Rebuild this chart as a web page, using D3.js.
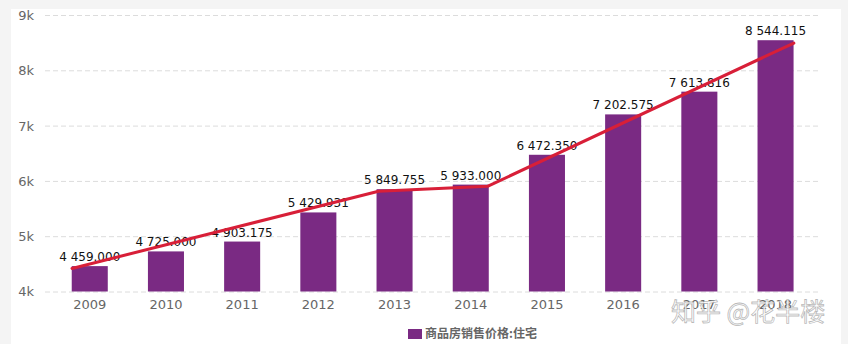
<!DOCTYPE html>
<html>
<head>
<meta charset="utf-8">
<script src="https://cdn.jsdelivr.net/npm/d3@7"></script>
<style>
  html, body { margin: 0; padding: 0; background: #f4f4f4; }
  svg { display: block; }
</style>
</head>
<body>
<svg id="chart" width="848" height="344"></svg>
<script>
const years = ["2009","2010","2011","2012","2013","2014","2015","2016","2017","2018"];
const prices = [4459.000, 4725.000, 4903.175, 5429.931, 5849.755, 5933.000, 6472.350, 7202.575, 7613.816, 8544.115];
const labels = ["4 459.000","4 725.000","4 903.175","5 429.931","5 849.755","5 933.000","6 472.350","7 202.575","7 613.816","8 544.115"];
const yTicks = [4000, 5000, 6000, 7000, 8000, 9000];
const tickLabels = ["4k","5k","6k","7k","8k","9k"];
// hand-drawn red trend line: position in year-index units and value
const trendIndex = [-0.233, 3.79, 5.22, 9.24];
const trendValues = [4417, 5812, 5902, 8493];
const seriesName = "商品房销售价格:住宅";
const watermark = "知乎 @花半楼";

const svg = d3.select("#chart");
const font = "'DejaVu Sans', Verdana, sans-serif";

// white panel
svg.append("rect").attr("x", 11).attr("y", 9).attr("width", 830).attr("height", 340).attr("fill", "#fff");

const x = d3.scaleBand().domain(years).range([51.65, 813.65]).paddingInner(0.527).paddingOuter(0.2635);
const y = d3.scaleLinear().domain([4000, 9000]).range([291.5, 15]);
const xi = d3.scaleLinear().domain([0, years.length - 1])
  .range([x(years[0]) + x.bandwidth() / 2, x(years[years.length - 1]) + x.bandwidth() / 2]);

// gridlines
const yAxis = d3.axisLeft(y).tickValues(yTicks).tickSize(-(818 - 45)).tickPadding(10)
  .tickFormat((d, i) => tickLabels[i]);
const gy = svg.append("g").attr("transform", "translate(45,0)").call(yAxis);
gy.select(".domain").remove();
gy.selectAll(".tick line").attr("stroke", "#dcdcdc").attr("stroke-dasharray", "5,3");
gy.selectAll(".tick text").attr("fill", "#666").attr("font-size", 13).attr("font-family", font)
  .attr("x", -11).attr("dy", "0.34em");

// bars
svg.append("g").selectAll("rect").data(years).join("rect")
  .attr("x", d => x(d)).attr("width", x.bandwidth())
  .attr("y", (d, i) => y(prices[i])).attr("height", (d, i) => y(4000) - y(prices[i]))
  .attr("fill", "#7a2a83");

// x axis labels
const xAxis = d3.axisBottom(x).tickSize(0).tickPadding(8);
const gx = svg.append("g").attr("transform", `translate(0,${y(4000)})`).call(xAxis);
gx.select(".domain").remove();
gx.selectAll(".tick text").attr("fill", "#666").attr("font-size", 13).attr("font-family", font);

// value labels
svg.append("g").selectAll("text").data(years).join("text")
  .attr("x", d => x(d) + x.bandwidth() / 2)
  .attr("y", (d, i) => y(prices[i]) - 5)
  .attr("text-anchor", "middle").attr("font-size", 12).attr("font-family", font)
  .attr("fill", "#111").text((d, i) => labels[i]);

// red trend line
const line = d3.line().x(d => xi(d[0])).y(d => y(d[1]));
svg.append("path").datum(trendIndex.map((t, i) => [t, trendValues[i]]))
  .attr("d", line).attr("fill", "none").attr("stroke", "#d81f38").attr("stroke-width", 3)
  .attr("stroke-linejoin", "round").attr("stroke-linecap", "round");

// legend
const lg = svg.append("g");
lg.append("rect").attr("x", 408).attr("y", 329).attr("width", 14).attr("height", 10).attr("fill", "#7a2a83");
lg.append("text").attr("x", 425).attr("y", 338).attr("font-size", 12).attr("font-weight", "bold")
  .attr("font-family", "'Noto Sans CJK SC', sans-serif").attr("fill", "#666").text(seriesName);

// watermark
svg.append("text").attr("x", 671).attr("y", 321).attr("font-size", 25)
  .attr("font-family", "'Noto Sans CJK SC', sans-serif")
  .attr("fill", "#ffffff").attr("fill-opacity", 0.85)
  .attr("stroke", "#8a8a8a").attr("stroke-width", 0.8).attr("stroke-opacity", 0.6)
  .text(watermark);
</script>
</body>
</html>
